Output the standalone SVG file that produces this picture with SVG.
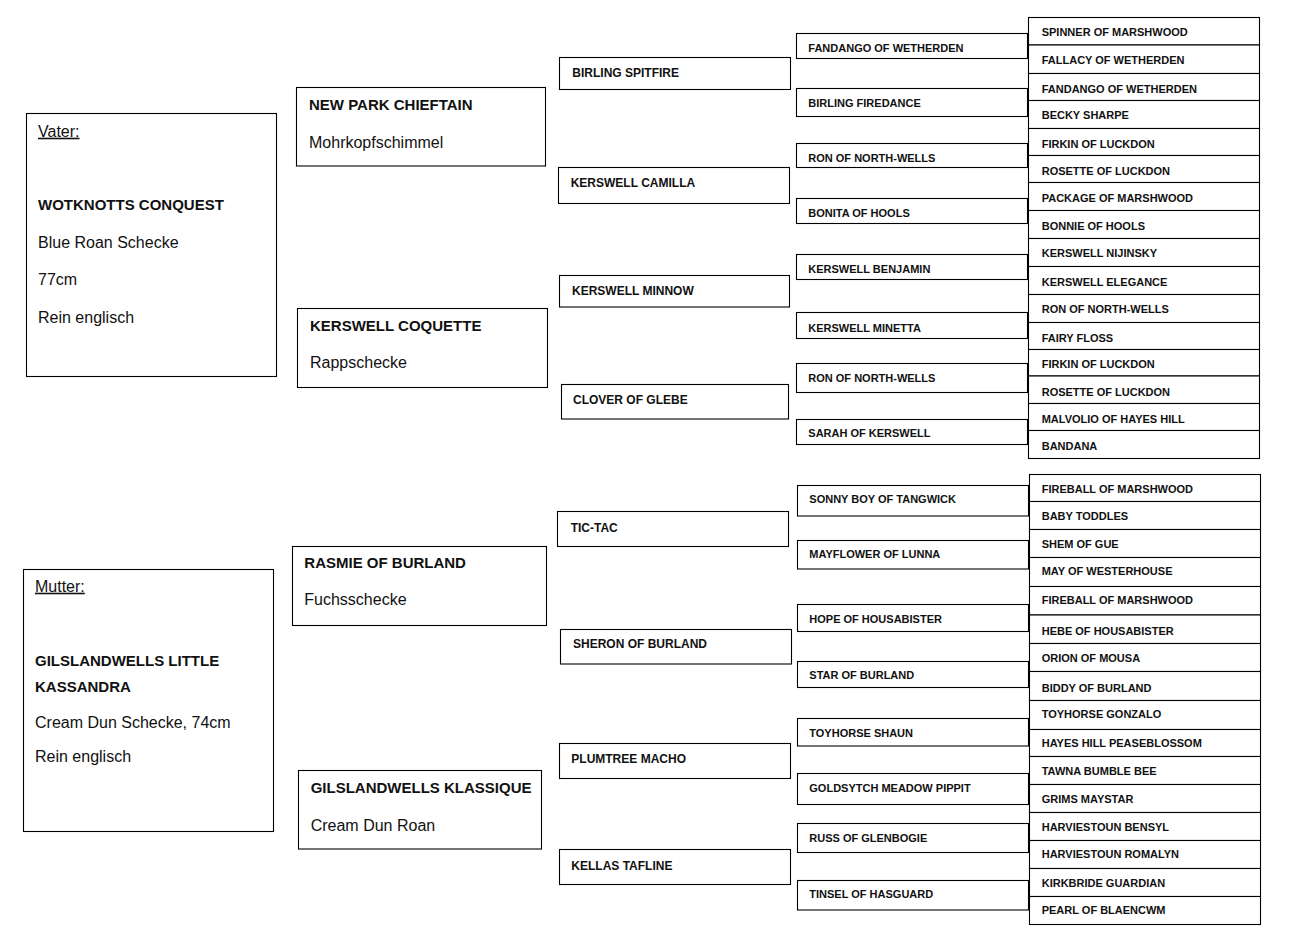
<svg xmlns="http://www.w3.org/2000/svg" width="1291" height="944" viewBox="0 0 1291 944">
<style>
rect{fill:#fff;stroke:#000;stroke-width:1.1}
text{font-family:"Liberation Sans",Arial,sans-serif;fill:#111}
.b0{font-size:15px;font-weight:bold}
.r0{font-size:16px}
.u{text-decoration:underline}
.b1{font-size:15px;font-weight:bold}
.b2{font-size:12px;font-weight:bold}
.b3{font-size:11px;font-weight:bold}
</style>
<rect x="0" y="0" width="1291" height="944" style="stroke:none"/>
<g id="connectors"/>
<g id="vater"><rect x="26.5" y="113.5" width="250" height="263"/>
<text x="38" y="136.7" class="r0 u">Vater:</text>
<text x="38" y="210" class="b0">WOTKNOTTS CONQUEST</text>
<text x="38" y="248" class="r0">Blue Roan Schecke</text>
<text x="38" y="285" class="r0">77cm</text>
<text x="38" y="322.7" class="r0">Rein englisch</text></g>
<g id="mutter"><rect x="23.5" y="569.5" width="250" height="262"/>
<text x="35" y="591.7" class="r0 u">Mutter:</text>
<text x="35" y="666" class="b0">GILSLANDWELLS LITTLE</text>
<text x="35" y="691.7" class="b0">KASSANDRA</text>
<text x="35" y="728.3" class="r0">Cream Dun Schecke, 74cm</text>
<text x="35" y="761.7" class="r0">Rein englisch</text></g>
<g id="new-park-chieftain"><rect x="296.5" y="87.5" width="249" height="78.5"/><text x="309" y="110" class="b1">NEW PARK CHIEFTAIN</text><text x="309" y="148.3" class="r0">Mohrkopfschimmel</text></g>
<g id="kerswell-coquette"><rect x="297.5" y="308.5" width="250" height="79"/><text x="310" y="330.7" class="b1">KERSWELL COQUETTE</text><text x="310" y="368.3" class="r0">Rappschecke</text></g>
<g id="rasmie-of-burland"><rect x="292.5" y="546.5" width="254" height="79"/><text x="304.3" y="568.3" class="b1">RASMIE OF BURLAND</text><text x="304.3" y="605" class="r0">Fuchsschecke</text></g>
<g id="gilslandwells-klassique"><rect x="298.5" y="770.5" width="243" height="78.5"/><text x="310.7" y="793.3" class="b1">GILSLANDWELLS KLASSIQUE</text><text x="310.7" y="830.7" class="r0">Cream Dun Roan</text></g>
<g id="birling-spitfire"><rect x="559.5" y="57.5" width="231" height="32"/><text x="572.3" y="76.7" class="b2">BIRLING SPITFIRE</text></g>
<g id="kerswell-camilla"><rect x="558.5" y="167.5" width="231" height="36"/><text x="570.7" y="186.7" class="b2">KERSWELL CAMILLA</text></g>
<g id="kerswell-minnow"><rect x="559.5" y="275.5" width="230" height="31.5"/><text x="572" y="295" class="b2">KERSWELL MINNOW</text></g>
<g id="clover-of-glebe"><rect x="561.5" y="384.5" width="227" height="34.5"/><text x="573" y="404" class="b2">CLOVER OF GLEBE</text></g>
<g id="tic-tac"><rect x="557.5" y="511.5" width="231" height="35"/><text x="570.7" y="531.7" class="b2">TIC-TAC</text></g>
<g id="sheron-of-burland"><rect x="560.5" y="629.5" width="231" height="34.5"/><text x="573" y="648.3" class="b2">SHERON OF BURLAND</text></g>
<g id="plumtree-macho"><rect x="559.5" y="743.5" width="231" height="35"/><text x="571.3" y="762.7" class="b2">PLUMTREE MACHO</text></g>
<g id="kellas-tafline"><rect x="559.5" y="849.5" width="231" height="35"/><text x="571.3" y="870" class="b2">KELLAS TAFLINE</text></g>
<g id="g3-1"><rect x="796.5" y="33.5" width="231" height="25"/><text x="808.3" y="52.3" class="b3">FANDANGO OF WETHERDEN</text></g>
<g id="g3-2"><rect x="796.5" y="88.5" width="231" height="28"/><text x="808.3" y="106.7" class="b3">BIRLING FIREDANCE</text></g>
<g id="g3-3"><rect x="796.5" y="143.5" width="231" height="24"/><text x="808.3" y="161.7" class="b3">RON OF NORTH-WELLS</text></g>
<g id="g3-4"><rect x="796.5" y="198.5" width="231" height="25"/><text x="808.3" y="216.7" class="b3">BONITA OF HOOLS</text></g>
<g id="g3-5"><rect x="796.5" y="254.5" width="231" height="25"/><text x="808.3" y="272.7" class="b3">KERSWELL BENJAMIN</text></g>
<g id="g3-6"><rect x="796.5" y="312.5" width="231" height="26"/><text x="808.3" y="331.7" class="b3">KERSWELL MINETTA</text></g>
<g id="g3-7"><rect x="796.5" y="363.5" width="231" height="29"/><text x="808.3" y="381.7" class="b3">RON OF NORTH-WELLS</text></g>
<g id="g3-8"><rect x="796.5" y="419.5" width="231" height="25"/><text x="808.3" y="437.3" class="b3">SARAH OF KERSWELL</text></g>
<g id="g3-9"><rect x="797.5" y="485.5" width="231" height="30.5"/><text x="809.3" y="503.3" class="b3">SONNY BOY OF TANGWICK</text></g>
<g id="g3-10"><rect x="797.5" y="540.5" width="231" height="28.5"/><text x="809.3" y="558.3" class="b3">MAYFLOWER OF LUNNA</text></g>
<g id="g3-11"><rect x="797.5" y="604.5" width="231" height="27"/><text x="809.3" y="622.7" class="b3">HOPE OF HOUSABISTER</text></g>
<g id="g3-12"><rect x="797.5" y="661.5" width="231" height="26"/><text x="809.3" y="679" class="b3">STAR OF BURLAND</text></g>
<g id="g3-13"><rect x="797.5" y="718.5" width="231" height="27.5"/><text x="809.3" y="736.7" class="b3">TOYHORSE SHAUN</text></g>
<g id="g3-14"><rect x="797.5" y="773.5" width="231" height="31"/><text x="809.3" y="791.7" class="b3">GOLDSYTCH MEADOW PIPPIT</text></g>
<g id="g3-15"><rect x="797.5" y="823.5" width="231" height="29"/><text x="809.3" y="841.7" class="b3">RUSS OF GLENBOGIE</text></g>
<g id="g3-16"><rect x="797.5" y="880.5" width="231" height="29.5"/><text x="809.3" y="898.3" class="b3">TINSEL OF HASGUARD</text></g>
<g id="g4-1"><rect x="1028.5" y="17.5" width="231" height="27.5"/><text x="1041.7" y="36" class="b3">SPINNER OF MARSHWOOD</text></g>
<g id="g4-2"><rect x="1028.5" y="45" width="231" height="28.5"/><text x="1041.7" y="64" class="b3">FALLACY OF WETHERDEN</text></g>
<g id="g4-3"><rect x="1028.5" y="73.5" width="231" height="27"/><text x="1041.7" y="92.7" class="b3">FANDANGO OF WETHERDEN</text></g>
<g id="g4-4"><rect x="1028.5" y="100.5" width="231" height="28"/><text x="1041.7" y="119" class="b3">BECKY SHARPE</text></g>
<g id="g4-5"><rect x="1028.5" y="128.5" width="231" height="27"/><text x="1041.7" y="147.7" class="b3">FIRKIN OF LUCKDON</text></g>
<g id="g4-6"><rect x="1028.5" y="155.5" width="231" height="27"/><text x="1041.7" y="175" class="b3">ROSETTE OF LUCKDON</text></g>
<g id="g4-7"><rect x="1028.5" y="182.5" width="231" height="28"/><text x="1041.7" y="201.7" class="b3">PACKAGE OF MARSHWOOD</text></g>
<g id="g4-8"><rect x="1028.5" y="210.5" width="231" height="28"/><text x="1041.7" y="230" class="b3">BONNIE OF HOOLS</text></g>
<g id="g4-9"><rect x="1028.5" y="238.5" width="231" height="28"/><text x="1041.7" y="257.3" class="b3">KERSWELL NIJINSKY</text></g>
<g id="g4-10"><rect x="1028.5" y="266.5" width="231" height="28"/><text x="1041.7" y="286" class="b3">KERSWELL ELEGANCE</text></g>
<g id="g4-11"><rect x="1028.5" y="294.5" width="231" height="28"/><text x="1041.7" y="313.3" class="b3">RON OF NORTH-WELLS</text></g>
<g id="g4-12"><rect x="1028.5" y="322.5" width="231" height="27"/><text x="1041.7" y="341.7" class="b3">FAIRY FLOSS</text></g>
<g id="g4-13"><rect x="1028.5" y="349.5" width="231" height="26.5"/><text x="1041.7" y="368.3" class="b3">FIRKIN OF LUCKDON</text></g>
<g id="g4-14"><rect x="1028.5" y="376" width="231" height="27.5"/><text x="1041.7" y="396" class="b3">ROSETTE OF LUCKDON</text></g>
<g id="g4-15"><rect x="1028.5" y="403.5" width="231" height="27"/><text x="1041.7" y="422.7" class="b3">MALVOLIO OF HAYES HILL</text></g>
<g id="g4-16"><rect x="1028.5" y="430.5" width="231" height="28"/><text x="1041.7" y="450" class="b3">BANDANA</text></g>
<g id="g4-17"><rect x="1029.5" y="474.5" width="231" height="27"/><text x="1041.7" y="493.3" class="b3">FIREBALL OF MARSHWOOD</text></g>
<g id="g4-18"><rect x="1029.5" y="501.5" width="231" height="28"/><text x="1041.7" y="520" class="b3">BABY TODDLES</text></g>
<g id="g4-19"><rect x="1029.5" y="529.5" width="231" height="28"/><text x="1041.7" y="548.3" class="b3">SHEM OF GUE</text></g>
<g id="g4-20"><rect x="1029.5" y="557.5" width="231" height="29"/><text x="1041.7" y="575" class="b3">MAY OF WESTERHOUSE</text></g>
<g id="g4-21"><rect x="1029.5" y="586.5" width="231" height="28.5"/><text x="1041.7" y="604.3" class="b3">FIREBALL OF MARSHWOOD</text></g>
<g id="g4-22"><rect x="1029.5" y="615" width="231" height="28.5"/><text x="1041.7" y="635" class="b3">HEBE OF HOUSABISTER</text></g>
<g id="g4-23"><rect x="1029.5" y="643.5" width="231" height="28"/><text x="1041.7" y="661.7" class="b3">ORION OF MOUSA</text></g>
<g id="g4-24"><rect x="1029.5" y="671.5" width="231" height="29"/><text x="1041.7" y="691.7" class="b3">BIDDY OF BURLAND</text></g>
<g id="g4-25"><rect x="1029.5" y="700.5" width="231" height="29"/><text x="1041.7" y="718.3" class="b3">TOYHORSE GONZALO</text></g>
<g id="g4-26"><rect x="1029.5" y="729.5" width="231" height="27"/><text x="1041.7" y="747.3" class="b3">HAYES HILL PEASEBLOSSOM</text></g>
<g id="g4-27"><rect x="1029.5" y="756.5" width="231" height="28"/><text x="1041.7" y="775" class="b3">TAWNA BUMBLE BEE</text></g>
<g id="g4-28"><rect x="1029.5" y="784.5" width="231" height="28"/><text x="1041.7" y="803.3" class="b3">GRIMS MAYSTAR</text></g>
<g id="g4-29"><rect x="1029.5" y="812.5" width="231" height="28"/><text x="1041.7" y="831" class="b3">HARVIESTOUN BENSYL</text></g>
<g id="g4-30"><rect x="1029.5" y="840.5" width="231" height="28"/><text x="1041.7" y="858.3" class="b3">HARVIESTOUN ROMALYN</text></g>
<g id="g4-31"><rect x="1029.5" y="868.5" width="231" height="28"/><text x="1041.7" y="886.7" class="b3">KIRKBRIDE GUARDIAN</text></g>
<g id="g4-32"><rect x="1029.5" y="896.5" width="231" height="28"/><text x="1041.7" y="914.3" class="b3">PEARL OF BLAENCWM</text></g>
</svg>
